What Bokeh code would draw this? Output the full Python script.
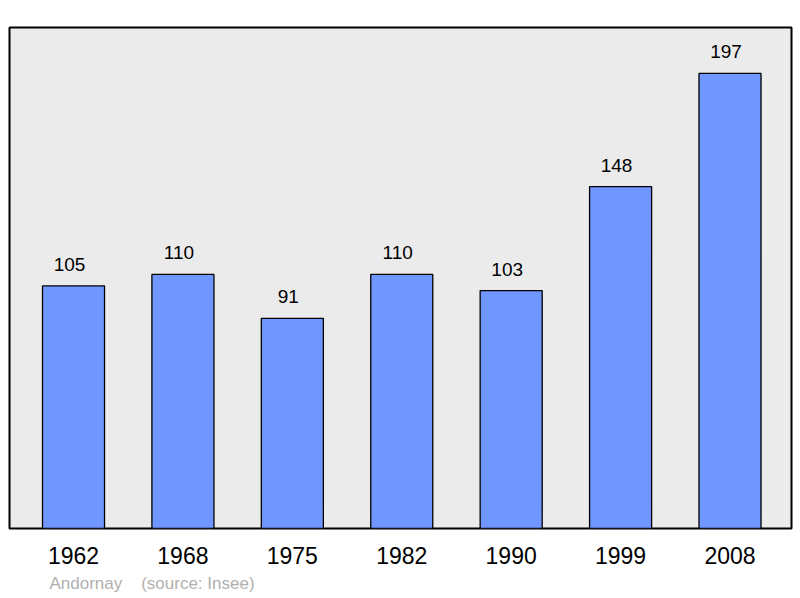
from bokeh.plotting import figure
from bokeh.models import Range1d, FixedTicker, ColumnDataSource, Title
from bokeh.core.properties import value
from bokeh.embed import file_html
from bokeh.resources import INLINE

years = ["1962", "1968", "1975", "1982", "1990", "1999", "2008"]
population = [105, 110, 91, 110, 103, 148, 197]
town = "Andornay"
source_note = "(source: Insee)"

xs = list(range(len(years)))
src = ColumnDataSource(dict(x=xs, top=population, label=[str(v) for v in population]))

FONT = "Liberation Sans"

p = figure(width=800, height=598, output_backend="svg", toolbar_location=None,
           x_range=Range1d(-0.585, 6.562), y_range=Range1d(0, 216.9),
           min_border_left=9, min_border_right=9, min_border_top=27, min_border_bottom=70)
p.background_fill_color = "#ebebeb"
p.border_fill_color = "white"
p.outline_line_color = "black"
p.outline_line_width = 2
p.xgrid.visible = False
p.ygrid.visible = False
p.yaxis.visible = False

p.vbar(x="x", top="top", width=0.567, bottom=0, source=src,
       fill_color="#7096ff", line_color="black", line_width=1.3)
p.text(x="x", y="top", text="label", source=src, text_align="center",
       text_baseline="bottom", y_offset=-15, x_offset=-4, text_font=value(FONT),
       text_font_size="19px", text_color="black")

ax = p.xaxis[0]
ax.ticker = FixedTicker(ticks=xs)
ax.major_label_overrides = {i: y for i, y in zip(xs, years)}
ax.axis_line_color = None
ax.major_tick_line_color = None
ax.minor_tick_line_color = None
ax.major_tick_out = 0
ax.major_tick_in = 0
ax.major_label_standoff = 18
ax.major_label_text_font = FONT
ax.major_label_text_font_size = "23px"
ax.major_label_text_color = "black"

footer = Title(text=town + "\u00a0" * 4 + source_note, align="left", offset=40,
               text_font=FONT, text_font_size="17px", text_font_style="normal",
               text_color="#b0b0b0", standoff=11)
p.add_layout(footer, "below")

open("out.html", "w").write(file_html(p, INLINE))
